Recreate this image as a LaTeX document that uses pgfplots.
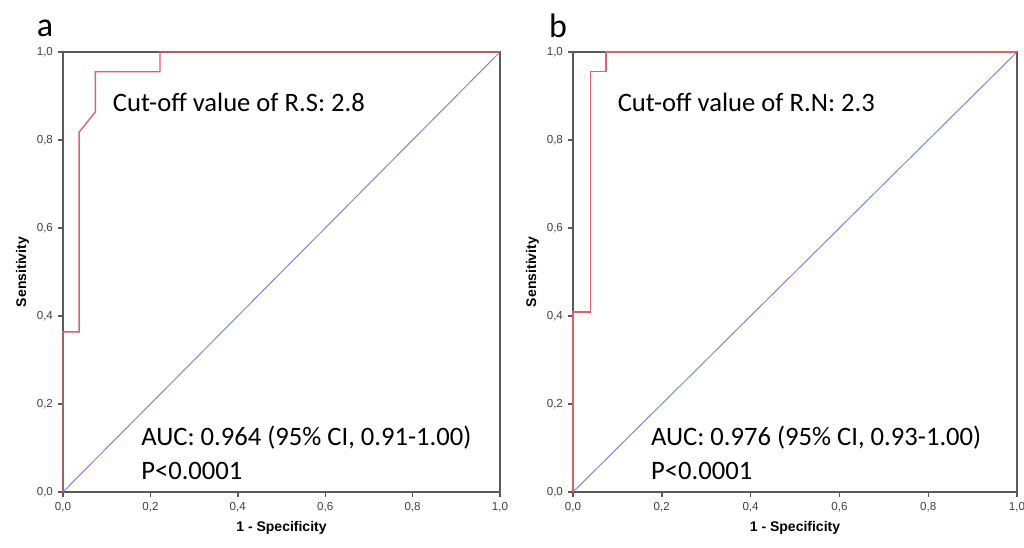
\documentclass[border=0pt]{standalone}
\usepackage{fontspec}
\setmainfont{Carlito}
\setsansfont{Liberation Sans}
\usepackage{pgfplots}
\pgfplotsset{compat=1.18}

\definecolor{rocred}{RGB}{226,96,106}
\definecolor{refblue}{RGB}{130,130,230}
\definecolor{frame}{RGB}{90,90,90}

\pgfplotsset{
  rocaxis/.style={
    scale only axis, height=220pt,
    xmin=0, xmax=1, ymin=0, ymax=1,
    xtick={0,0.2,...,1.0}, ytick={0,0.2,...,1.0},
    xticklabels={0{,}0,0{,}2,0{,}4,0{,}6,0{,}8,1{,}0},
    yticklabels={0{,}0,0{,}2,0{,}4,0{,}6,0{,}8,1{,}0},
    tick align=outside, xtick pos=bottom, ytick pos=left,
    major tick length=2.5pt,
    tick style={frame, line width=0.7pt},
    axis line style={frame, line width=0.8pt},
    tick label style={font=\sffamily\fontsize{5.8}{6}\selectfont, text=black!75},
    xticklabel style={yshift=1pt},
    yticklabel style={xshift=1pt},
    label style={font=\sffamily\bfseries\fontsize{7}{8}\selectfont},
    xlabel={1 - Specificity}, ylabel={Sensitivity},
    xlabel style={yshift=2pt},
    ylabel style={yshift=-3pt},
    clip=false,
  },
}
\tikzset{annot/.style={anchor=west, font=\fontsize{13.3}{15}\selectfont}}

\begin{document}
\begin{tikzpicture}
\useasboundingbox (-31.5pt,-27.5pt) rectangle (480.5pt,246pt);

\begin{axis}[rocaxis, width=218.5pt, at={(0pt,0pt)}, anchor=south west]
\addplot[draw=refblue, line width=0.5pt] coordinates {(0,0)(1,1)};
\addplot[draw=rocred, line width=0.7pt] coordinates {
  (0,0)(0,0.364)(0.037,0.364)(0.037,0.818)(0.074,0.864)(0.074,0.955)
  (0.222,0.955)(0.222,1)(1,1)};
\node[annot] at (axis cs:0.098,0.886) {Cut-off value of R.S: 2.8};
\node[annot] at (axis cs:0.163,0.123) {AUC: 0.964 (95\% CI, 0.91-1.00)};
\node[annot] at (axis cs:0.163,0.048) {P<0.0001};
\end{axis}

\begin{axis}[rocaxis, width=222pt, at={(255pt,0pt)}, anchor=south west]
\addplot[draw=refblue, line width=0.5pt] coordinates {(0,0)(1,1)};
\addplot[draw=rocred, line width=0.7pt] coordinates {
  (0,0)(0,0.409)(0.039,0.409)(0.039,0.955)(0.074,0.955)(0.074,1)(1,1)};
\node[annot] at (axis cs:0.085,0.886) {Cut-off value of R.N: 2.3};
\node[annot] at (axis cs:0.16,0.123) {AUC: 0.976 (95\% CI, 0.93-1.00)};
\node[annot] at (axis cs:0.16,0.048) {P<0.0001};
\end{axis}

\node[font=\fontsize{17}{19}\selectfont, anchor=center] at (-9pt,232pt) {a};
\node[font=\fontsize{17}{19}\selectfont, anchor=center] at (247.5pt,233pt) {b};
\end{tikzpicture}
\end{document}
